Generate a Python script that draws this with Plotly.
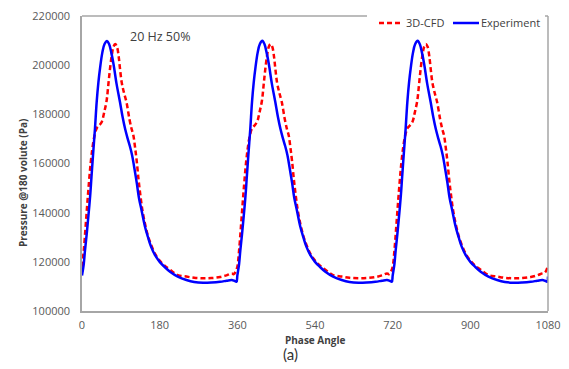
import plotly.graph_objects as go

# ---------------- data ----------------
# phase angle within one cycle (deg)
ANGLE_EXP = [0, 4, 7, 11, 15, 19, 22, 26, 30, 34, 38, 42, 47, 52, 58, 63, 68, 73, 80, 88,
             94, 100, 106, 111, 116, 121, 127, 132, 138, 146, 153, 160, 170, 180, 191,
             204, 222, 242, 260, 281, 300, 320, 335, 347, 353, 358]
EXP_CYCLE_1 = [114400, 119000, 124800, 131500, 139000, 147000, 154600, 164500, 174000, 185000,
               193000, 199000, 205000, 208500, 209800, 208500, 205000, 200500, 192500, 185000,
               179000, 174000, 170000, 167000, 163500, 158500, 152000, 146000, 141000, 134300,
               130000, 126200, 122500, 120000, 118000, 116000, 114000, 112600, 111800, 111500,
               111600, 111900, 112300, 112600, 112300, 111900]
EXP_CYCLE_2 = [114400, 119000, 124800, 131500, 139000, 147000, 154600, 164500, 174000, 185000,
               193000, 199000, 205000, 208500, 209900, 208500, 205000, 200500, 192500, 185000,
               179000, 174000, 170000, 167000, 163500, 158500, 152000, 146000, 141000, 134300,
               130000, 126200, 122500, 120000, 118000, 116000, 114000, 112600, 111800, 111500,
               111600, 111900, 112300, 112600, 112300, 111900]
EXP_CYCLE_3 = [114400, 119000, 124800, 131500, 139000, 147000, 154600, 164500, 174000, 185000,
               193000, 199000, 205000, 208500, 209900, 208500, 205000, 200500, 192500, 185000,
               179000, 174000, 170000, 167000, 163500, 158500, 152000, 146000, 141000, 134300,
               130000, 126200, 122500, 120000, 118000, 116000, 114000, 112600, 111800, 111500,
               111600, 111900, 112300, 112600, 112300, 111900]
EXP_END = (1080, 114000)

ANGLE_CFD = [0, 4, 8, 12, 16, 20, 24, 28, 34, 40, 46, 51, 57, 61, 65, 69, 73, 77, 81, 85,
             88, 92, 97, 103, 110, 115, 119, 123, 127, 131, 135, 140, 146, 153, 160, 170,
             180, 191, 204, 222, 242, 260, 281, 300, 320, 335, 347, 352, 356]
CFD_CYCLE_1 = [118000, 124500, 133500, 143000, 152000, 160000, 166000, 170500, 174300, 175500,
               177000, 180500, 185500, 192000, 198700, 204000, 207500, 208600, 207500, 203500,
               198700, 193000, 189000, 185000, 178000, 174000, 171500, 166500, 160700, 153500,
               147500, 141000, 135500, 130500, 127000, 123000, 120500, 118500, 116800, 114600,
               114000, 113500, 113300, 113400, 113800, 114500, 115300, 115000, 116000]
CFD_CYCLE_2 = [118000, 124500, 133500, 143000, 152000, 160000, 166000, 170500, 174300, 175500,
               177000, 180500, 185500, 192000, 198700, 204000, 207500, 208600, 207500, 203500,
               198700, 193000, 189000, 185000, 178000, 174000, 171500, 166500, 160700, 153500,
               147500, 141000, 135500, 130500, 127000, 123000, 120500, 118500, 116800, 114600,
               114000, 113500, 113300, 113400, 113800, 114500, 115300, 115000, 116000]
CFD_CYCLE_3 = [118000, 124500, 133500, 143000, 152000, 160000, 166000, 170500, 174300, 175500,
               177000, 180500, 185500, 192000, 198700, 204000, 207500, 208600, 207500, 203500,
               198700, 193000, 189000, 185000, 178000, 174000, 171500, 166500, 160700, 153500,
               147500, 141000, 135500, 130500, 127000, 123000, 120500, 118500, 116800, 114600,
               114000, 113500, 113300, 113400, 113800, 114500, 115300, 115500, 116500]
CFD_END = (1080, 118700)

X_TICKS = [0, 180, 360, 540, 720, 900, 1080]
Y_TICKS = [100000, 120000, 140000, 160000, 180000, 200000, 220000]
SERIES_NAMES = ["3D-CFD", "Experiment"]
SERIES_COLORS = ["#FF0000", "#0000FF"]

# ---------------- build series ----------------
def build(angles, cycles, end):
    xs, ys = [], []
    for k, vals in enumerate(cycles):
        xs += [a + 360 * k for a in angles]
        ys += vals
    xs.append(end[0]); ys.append(end[1])
    return xs, ys

x_exp, y_exp = build(ANGLE_EXP, [EXP_CYCLE_1, EXP_CYCLE_2, EXP_CYCLE_3], EXP_END)
x_cfd, y_cfd = build(ANGLE_CFD, [CFD_CYCLE_1, CFD_CYCLE_2, CFD_CYCLE_3], CFD_END)

FONT = "Open Sans, Liberation Sans, sans-serif"
AX_COLOR = "#A6A6A6"
TXT = "#595959"
DARK = "#404040"

# plot-area geometry (pixels) used to place legend/title text in paper coords
L, R, T, B = 82, 548, 16, 311
def px(xp): return (xp - L) / (R - L)
def py(yp): return (B - yp) / (B - T)

fig = go.Figure()
fig.add_trace(go.Scatter(x=x_cfd, y=y_cfd, mode="lines", name=SERIES_NAMES[0],
                         line=dict(color=SERIES_COLORS[0], width=2.5, dash="5px,3px",
                                   shape="spline", smoothing=1.0)))
fig.add_trace(go.Scatter(x=x_exp, y=y_exp, mode="lines", name=SERIES_NAMES[1],
                         line=dict(color=SERIES_COLORS[1], width=2.5,
                                   shape="spline", smoothing=1.0)))

shapes = [
    dict(type="line", xref="paper", yref="paper", x0=1, x1=1, y0=0, y1=1,
         line=dict(color=AX_COLOR, width=1.5)),
    dict(type="line", xref="paper", yref="paper", x0=0, x1=px(367), y0=1, y1=1,
         line=dict(color=AX_COLOR, width=1.5)),
    dict(type="line", xref="paper", yref="paper", x0=px(545), x1=1, y0=1, y1=1,
         line=dict(color=AX_COLOR, width=1.5)),
    # legend samples
    dict(type="line", xref="paper", yref="paper", x0=px(379), x1=px(401), y0=py(23), y1=py(23),
         line=dict(color=SERIES_COLORS[0], width=2.5, dash="5px,3px")),
    dict(type="line", xref="paper", yref="paper", x0=px(453), x1=px(479), y0=py(23), y1=py(23),
         line=dict(color=SERIES_COLORS[1], width=2.5)),
]

annotations = [
    dict(text=SERIES_NAMES[0], xref="paper", yref="paper", x=px(404), y=py(23),
         xanchor="left", yanchor="middle", showarrow=False,
         font=dict(size=11, color=DARK, family=FONT)),
    dict(text=SERIES_NAMES[1], xref="paper", yref="paper", x=px(479), y=py(23),
         xanchor="left", yanchor="middle", showarrow=False,
         font=dict(size=11, color=DARK, family=FONT)),
    dict(text="20 Hz 50%", x=181, y=211500, xref="x", yref="y", showarrow=False,
         xanchor="center", yanchor="middle",
         font=dict(size=12.5, color=DARK, family=FONT)),
    dict(text="<b>Pressure @180 volute (Pa)</b>", textangle=-90, xref="paper", yref="paper",
         x=px(23), y=py(183), xanchor="center", yanchor="middle", showarrow=False,
         font=dict(size=10, color=DARK, family=FONT)),
    dict(text="<b>Phase Angle</b>", xref="paper", yref="paper",
         x=0.5, y=py(340), xanchor="center", yanchor="middle", showarrow=False,
         font=dict(size=10, color=DARK, family=FONT)),
    dict(text="(a)", xref="paper", yref="paper",
         x=px(290), y=py(354), xanchor="center", yanchor="middle", showarrow=False,
         font=dict(size=15, color="#333333", family="Lato, Open Sans, sans-serif")),
]

fig.update_layout(
    width=569, height=369,
    margin=dict(l=L, r=569 - R, t=T, b=369 - B, autoexpand=False),
    paper_bgcolor="white", plot_bgcolor="white",
    font=dict(family=FONT, size=11, color=TXT),
    showlegend=False,
    xaxis=dict(range=[0, 1080], tickvals=X_TICKS, ticktext=[str(v) for v in X_TICKS],
               showgrid=False, zeroline=False, showline=True, linecolor=AX_COLOR, linewidth=1.5,
               ticks="outside", ticklen=3, tickcolor="rgba(0,0,0,0)",
               tickfont=dict(size=11, color=TXT, family=FONT)),
    yaxis=dict(range=[100000, 220000], tickvals=Y_TICKS, ticktext=[str(v) for v in Y_TICKS],
               showgrid=False, zeroline=False, showline=True, linecolor=AX_COLOR, linewidth=1.5,
               ticks="outside", ticklen=8, tickcolor="rgba(0,0,0,0)",
               tickfont=dict(size=11, color=TXT, family=FONT)),
    shapes=shapes,
    annotations=annotations,
)

fig.write_html("out.html", config={"displayModeBar": False},
               post_script="document.body.style.margin='0';document.body.style.overflow='hidden';")
